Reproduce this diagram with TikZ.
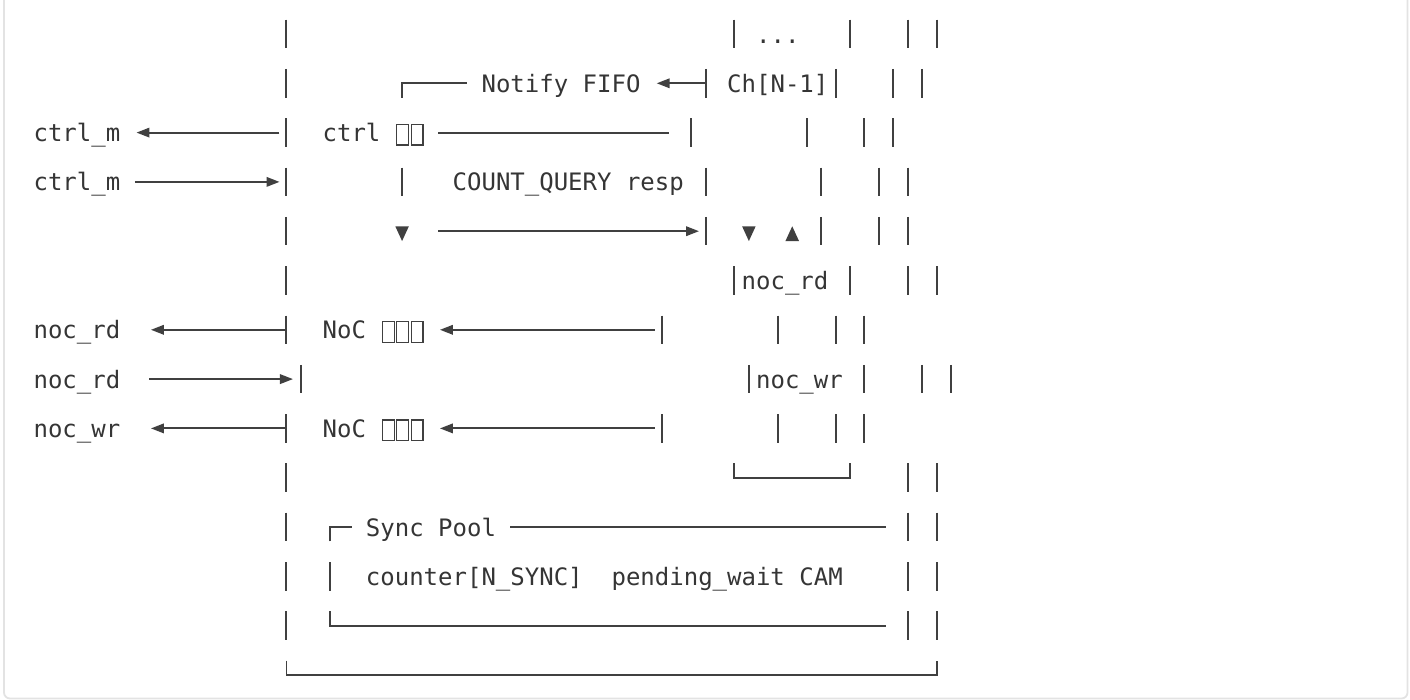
\documentclass[tikz,border=0pt]{standalone}
\usepackage{fontspec}
\newfontfamily\dvm{DejaVu Sans Mono}
\usetikzlibrary{arrows.meta}
\definecolor{tc}{HTML}{353535}
\definecolor{lc}{HTML}{404040}
\definecolor{fc}{HTML}{E3E3E3}
\newcommand\VB[2]{\draw[vln] ({#1+0.5},{#2-0.29}) -- ({#1+0.5},{#2+0.29});}
\begin{document}
\begin{tikzpicture}[x=1pt,y=-1pt,
  txt/.style={anchor=base west,inner sep=0pt,outer sep=0pt,text=tc,font=\dvm\fontsize{24pt}{28pt}\selectfont},
  vln/.style={draw=lc,line width=2pt},
  hln/.style={draw=lc,line width=1.9pt},
  arr/.style={hln,-{Triangle[length=13pt,width=9.5pt]}},
  tofu/.style={draw=lc,line width=1.2pt},
  tri/.style={fill=lc}]
\clip (0,0) rectangle (1410,700);
\fill[white] (0,0) rectangle (1410,700);
\draw[fc,line width=1.8pt,rounded corners=6pt] (4,-30) -- (4,698.5) -- (1407.5,698.5) -- (1407.5,-30);
\begin{scope}[shift={(33.6,34)},x=14.45pt,y=-49.3pt]
% text labels
\node[txt] (dots)   at (50,0.183)  {...};
\node[txt] (notify) at (31,1.183)  {Notify FIFO};
\node[txt] (chn)    at (48,1.183)  {Ch[N-1]};
\node[txt] (ctrlmo) at (0,2.183)   {ctrl\_m};
\node[txt] (ctrl)   at (20,2.183)  {ctrl};
\node[txt] (ctrlmi) at (0,3.183)   {ctrl\_m};
\node[txt] (cq)     at (29,3.183)  {COUNT\_QUERY resp};
\node[txt] (nocrdA) at (49,5.183)  {noc\_rd};
\node[txt] (nocrdo) at (0,6.183)   {noc\_rd};
\node[txt] (nocA)   at (20,6.183)  {NoC};
\node[txt] (nocrdi) at (0,7.183)   {noc\_rd};
\node[txt] (nocwrA) at (50,7.183)  {noc\_wr};
\node[txt] (nocwro) at (0,8.183)   {noc\_wr};
\node[txt] (nocB)   at (20,8.183)  {NoC};
\node[txt] (sync)   at (23,10.183) {Sync Pool};
\node[txt] (cnt)    at (23,11.183) {counter[N\_SYNC]\ \ pending\_wait CAM};
% missing-glyph boxes
\foreach \c/\r in {25/2,26/2,24/6,25/6,26/6,24/8,25/8,26/8}
  \draw[tofu] ({\c+0.13},{\r-0.17}) rectangle ({\c+0.95},{\r+0.25});
% vertical bars
\foreach \c/\r in {17/0,48/0,56/0,60/0,62/0,
                   17/1,46/1,55/1,59/1,61/1,
                   17/2,45/2,53/2,57/2,59/2,
                   17/3,25/3,46/3,54/3,58/3,60/3,
                   17/4,46/4,54/4,58/4,60/4,
                   17/5,48/5,56/5,60/5,62/5,
                   17/6,43/6,51/6,55/6,57/6,
                   18/7,49/7,57/7,61/7,63/7,
                   17/8,43/8,51/8,55/8,57/8,
                   17/9,60/9,62/9,
                   17/10,60/10,62/10,
                   17/11,20/11,60/11,62/11,
                   17/12,60/12,62/12}
  \VB{\c}{\r}
% corners and plain lines
\draw[hln] (25.5,1.29) -- (25.5,1) -- (30,1);
\draw[hln] (28,2) -- (44,2);
\draw[hln] (48.5,8.71) -- (48.5,9) -- (56.5,9) -- (56.5,8.71);
\draw[hln] (20.5,10.29) -- (20.5,10) -- (22,10);
\draw[hln] (33,10) -- (59,10);
\draw[hln] (20.5,11.71) -- (20.5,12) -- (59,12);
\draw[hln] (17.5,12.71) -- (17.5,13) -- (62.5,13) -- (62.5,12.71);
% arrow end points
\coordinate (a1s) at (46.5,1);  \coordinate (a1e) at (43.12,1);
\coordinate (a2s) at (17,2);    \coordinate (a2e) at (7.12,2);
\coordinate (a3s) at (7,3);     \coordinate (a3e) at (17.02,3);
\coordinate (a4s) at (28,4);    \coordinate (a4e) at (46.05,4);
\coordinate (a5s) at (17.5,6);  \coordinate (a5e) at (8.12,6);
\coordinate (a6s) at (43,6);    \coordinate (a6e) at (28.12,6);
\coordinate (a7s) at (8,7);     \coordinate (a7e) at (17.95,7);
\coordinate (a8s) at (17.5,8);  \coordinate (a8e) at (8.12,8);
\coordinate (a9s) at (43,8);    \coordinate (a9e) at (28.12,8);
\foreach \i in {1,...,9} \draw[arr] (a\i s) -- (a\i e);
% stand-alone triangles
\foreach \c in {25,49}
  \fill[tri] ({\c+0.03},3.9) -- ({\c+0.97},3.9) -- ({\c+0.5},4.2) -- cycle;
\fill[tri] (52.03,4.2) -- (52.97,4.2) -- (52.5,3.9) -- cycle;
\end{scope}
\end{tikzpicture}
\end{document}
